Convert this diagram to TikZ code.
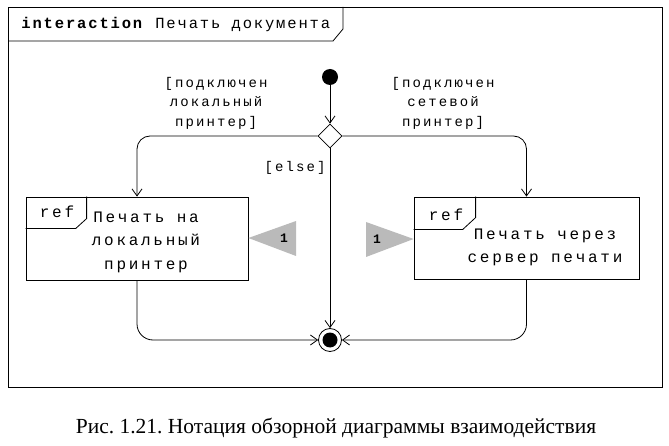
\documentclass[tikz,border=0pt]{standalone}
\usepackage{fontspec}
\setmainfont{Liberation Serif}
\newfontfamily\boxfont[LetterSpace=17]{Liberation Mono}
\newfontfamily\guardfont[LetterSpace=15]{Liberation Mono}
\newfontfamily\headfont[LetterSpace=12]{Liberation Mono}
\usetikzlibrary{shapes.geometric,arrows.meta}
\frenchspacing
\begin{document}
\begin{tikzpicture}[x=1pt,y=-1pt,
  every path/.style={line width=0.8pt},
  arr/.style={-{Straight Barb[length=7pt,width=10pt]}},
  refbox/.style={draw,rectangle,inner sep=0pt},
  boxtext/.style={font=\boxfont\fontsize{16}{23.5}\selectfont,align=center,inner sep=0pt},
  guard/.style={font=\guardfont\fontsize{14}{19.5}\selectfont,align=center,inner sep=0pt},
  tagtext/.style={font=\boxfont\fontsize{16}{18}\selectfont,inner sep=0pt},
  mark1/.style={font=\fontspec{Liberation Mono}\bfseries\fontsize{13}{14}\selectfont,inner sep=0pt},
  tri/.style={fill=black!27,draw=none}]
\useasboundingbox (0,0) rectangle (669,446);
% frame
\draw (8,7) rectangle (662,387);
\draw (8,41) -- (333,41) -- (343,29) -- (343,7);
\node[anchor=west,inner sep=0pt,font=\headfont\fontsize{15.5}{18}\selectfont] (title) at (21,24) {\textbf{interaction} Печать документа};
% nodes
\node[circle,fill=black,inner sep=0pt,minimum size=16pt] (start) at (330,77) {};
\node[diamond,draw,fill=white,inner sep=0pt,minimum width=24pt,minimum height=24pt] (dec) at (330,136) {};
\node[refbox,minimum width=222pt,minimum height=83pt] (lbox) at (137,238.5) {};
\node[refbox,minimum width=225pt,minimum height=82pt] (rbox) at (526.5,238) {};
\node[circle,draw,inner sep=0pt,minimum size=23pt] (fin) at (330,340) {};
\fill (fin.center) circle (7.5pt);
% ref tags
\draw (lbox.north west) ++(0,32) -- ++(50,0) -- ++(11,-10) -- ++(0,-22);
\draw (rbox.north west) ++(0,33) -- ++(49,0) -- ++(13,-12) -- ++(0,-21);
\node[tagtext] (ltag) at (57,212) {ref};
\node[tagtext] (rtag) at (446,215) {ref};
% box texts
\node[boxtext] (ltext) at (146,242) {Печать на\\локальный\\принтер};
\node[boxtext] (rtext) at (545,247.5) {Печать через\\сервер печати};
% triangles
\fill[tri] (lbox.east |- 0,238) -- (296,221) -- (296,256) -- cycle;
\node[mark1] (l1) at (284,238) {1};
\fill[tri] (366,222) -- (rbox.west |- 0,239) -- (366,257) -- cycle;
\node[mark1] (r1) at (377,239) {1};
% connectors
\draw[arr] (start) -- (dec);
\draw[arr,rounded corners=13pt] (dec.west) -| (lbox.north);
\draw[arr,rounded corners=13pt] (dec.east) -| (rbox.north);
\draw[arr] (dec.south) -- (fin.north);
\draw[arr,rounded corners=16pt] (lbox.south) |- (fin.west);
\draw[arr,rounded corners=16pt] (rbox.south) |- (fin.east);
% guards
\node[guard] (g1) at (216,103) {[подключен\\локальный\\принтер]};
\node[guard] (g2) at (443,103) {[подключен\\сетевой\\принтер]};
\node[guard,anchor=east] (g3) at (326,168) {[else]};
% caption
\node[inner sep=0pt,anchor=base,font=\fontsize{21.5}{26}\selectfont] (cap) at (336,433) {Рис. 1.21. Нотация обзорной диаграммы взаимодействия};
\end{tikzpicture}
\end{document}
